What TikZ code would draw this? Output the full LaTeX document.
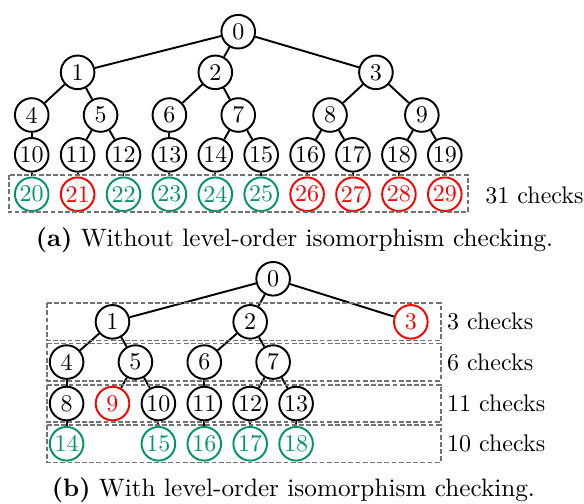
\documentclass[tikz,border=0pt]{standalone}
\definecolor{okgreen}{RGB}{0,150,100}

\begin{document}
\begin{tikzpicture}[x=0.672cm, y=0.595cm,
    vtx/.style={circle, draw, thick, minimum size=14pt, inner sep=0pt},
    ok/.style={vtx, draw=okgreen, text=okgreen},
    bad/.style={vtx, draw=red, text=red},
    grp/.style={draw=black!55, line width=0.7pt, dash pattern=on 2pt off 1pt},
    lbl/.style={anchor=west, inner sep=0pt},
    captxt/.style={font=\fontsize{10.5}{12}\selectfont}]
    \useasboundingbox (-0.691,0.78) rectangle (12.033,-11.62);

    % (a) plain search tree
    \node[vtx] (a0) at (4.5,0) {0};
    \node[vtx] (a1) at (1,-1) {1};
    \node[vtx] (a2) at (4,-1) {2};
    \node[vtx] (a3) at (7.5,-1) {3};
    \foreach \n/\x in {4/0,5/1.5,6/3,7/4.5,8/6.5,9/8.5}
        \node[vtx] (a\n) at (\x,-2.05) {\n};
    \foreach \x in {0,...,9} {
        \pgfmathtruncatemacro{\n}{\x+10}
        \node[vtx] (a\n) at (\x,-3.03) {\n};
    }
    \foreach \x/\s in {0/ok,1/bad,2/ok,3/ok,4/ok,5/ok,6/bad,7/bad,8/bad,9/bad} {
        \pgfmathtruncatemacro{\n}{\x+20}
        \node[\s] (a\n) at (\x,-4) {\n};
    }
    \foreach \p/\q in {0/1,0/2,0/3,1/4,1/5,2/6,2/7,3/8,3/9,4/10,5/11,5/12,
                       6/13,7/14,7/15,8/16,8/17,9/18,9/19}
        \draw[thick] (a\p) -- (a\q);
    \foreach \p in {10,...,19} {
        \pgfmathtruncatemacro{\q}{\p+10}
        \draw[thick] (a\p) -- (a\q);
    }
    \draw[grp] (-0.5,-3.525) rectangle (9.5,-4.443);
    \node[lbl] (la) at (9.876,-4.017) {31 checks};
    \node[captxt] (capa) at (5.725,-5.12) {\textbf{(a)} Without level-order isomorphism checking.};

    % (b) level-order checking
    \node[vtx] (b0) at (5.26,-6.08) {0};
    \node[vtx] (b1) at (1.76,-7.14) {1};
    \node[vtx] (b2) at (4.76,-7.14) {2};
    \node[bad] (b3) at (8.26,-7.14) {3};
    \foreach \n/\x in {4/0.76,5/2.26,6/3.76,7/5.26}
        \node[vtx] (b\n) at (\x,-8.13) {\n};
    \foreach \n/\x/\s in {8/0.76/vtx,9/1.76/bad,10/2.76/vtx,11/3.76/vtx,12/4.76/vtx,13/5.76/vtx}
        \node[\s] (b\n) at (\x,-9.15) {\n};
    \foreach \n/\x in {14/0.76,15/2.76,16/3.76,17/4.76,18/5.76}
        \node[ok] (b\n) at (\x,-10.14) {\n};
    \foreach \p/\q in {0/1,0/2,0/3,1/4,1/5,2/6,2/7,4/8,5/9,5/10,6/11,7/12,7/13,
                       8/14,10/15,11/16,12/17,13/18}
        \draw[thick] (b\p) -- (b\q);
    \foreach \y/\t in {7.14/3,8.13/6,9.15/11,10.14/10} {
        \draw[grp] (0.34,-\y+0.46) rectangle (8.91,-\y-0.46);
        \node[lbl] (lb\t) at (9.04,-\y) {\t~checks};
    }
    \node[captxt] (capb) at (5.703,-11.27) {\textbf{(b)} With level-order isomorphism checking.};
\end{tikzpicture}
\end{document}
